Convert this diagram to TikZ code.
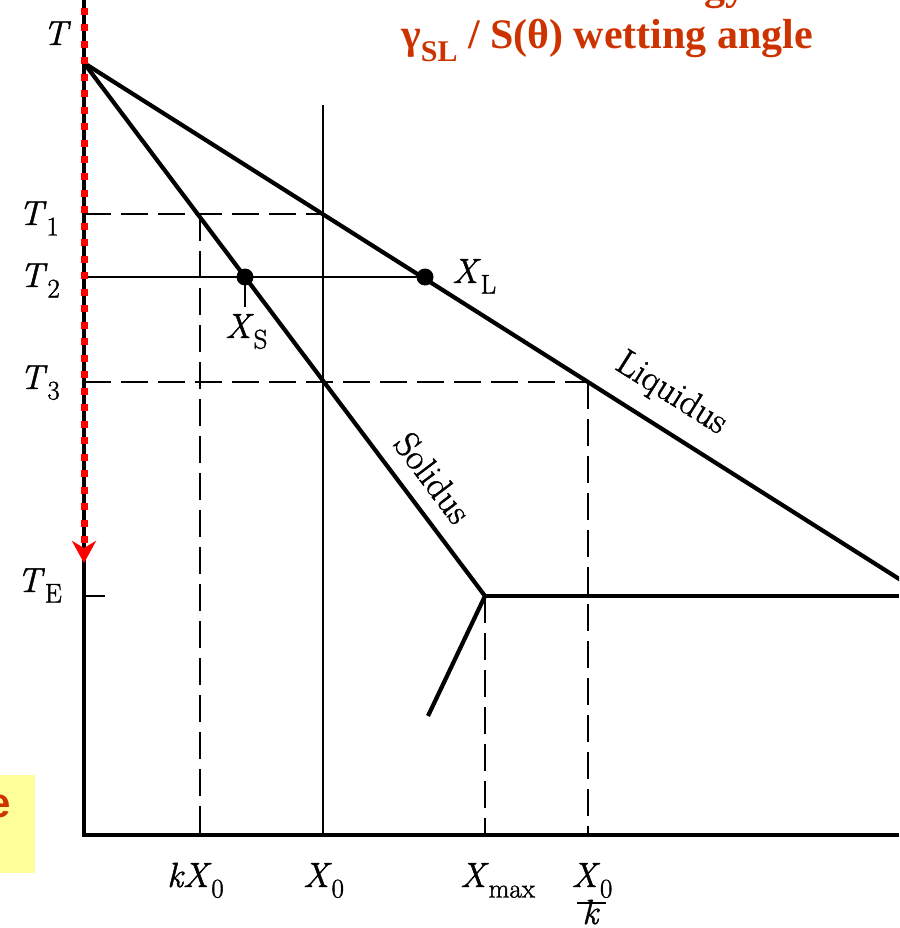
\documentclass[tikz,border=0pt]{standalone}
\usepackage{fontspec}
\usetikzlibrary{arrows.meta}
\setmainfont{Latin Modern Roman}
\newfontfamily\lblfont{Latin Modern Roman}[FakeBold=1.3]
\newfontfamily\ttlfont{Liberation Serif}
\newfontfamily\boxfont{Liberation Sans}
\definecolor{ttlred}{RGB}{204,51,0}
\definecolor{noteyellow}{RGB}{255,255,153}
\newcommand{\vs}[2]{\textit{#1}\raisebox{-0.3em}{\fontsize{27}{27}\selectfont #2}}
\tikzset{
  lbl/.style={font=\lblfont\fontsize{35}{40}\selectfont, inner sep=0pt},
  curvelbl/.style={font=\lblfont\fontsize{36}{40}\selectfont, inner sep=0pt},
  ttl/.style={font=\ttlfont\bfseries\fontsize{42}{48}\selectfont, text=ttlred, inner sep=0pt},
  heavy/.style={line width=4.2pt},
  light/.style={line width=2.6pt},
  dashline/.style={line width=2.8pt, dash pattern=on 27pt off 10pt},
  dotmark/.style={circle, fill=black, inner sep=0pt, minimum size=17pt},
  redarrow/.style={draw=red, line width=7pt, dash pattern=on 7pt off 9.5pt,
     -{Stealth[length=22pt,width=24pt,inset=7pt]}}
}
\begin{document}
\begin{tikzpicture}[x=1pt,y=-1pt]
\useasboundingbox (0,0) rectangle (899,928);
\clip (0,0) rectangle (899,928);

% coordinates
\coordinate (top) at (84,63);
\coordinate (axtop) at (84,0);
\coordinate (origin) at (84,835);
\coordinate (axright) at (899,835);
\coordinate (liqend) at (915,589);
\coordinate (eut) at (485,596);
\coordinate (TEright) at (899,596);
\coordinate (branch) at (428,716);
\coordinate (X0top) at (323,105);
\coordinate (X0bot) at (323,835);
\coordinate (T1a) at (84,214);
\coordinate (T1b) at (323,214);
\coordinate (kX0top) at (200,214);
\coordinate (kX0bot) at (200,835);
\coordinate (T2a) at (84,277);
\coordinate (T3a) at (84,382);
\coordinate (T3b) at (588,382);
\coordinate (X0kbot) at (588,835);
\coordinate (Xmaxbot) at (485,835);
\coordinate (TEa) at (84,596);
\coordinate (TEb) at (105,596);
\coordinate (XStick) at (245,307);
\coordinate (rstart) at (84,8);
\coordinate (rend) at (84,563);

% note box (clipped)
\node[fill=noteyellow, minimum width=35pt, minimum height=98pt, inner sep=0pt, anchor=north west] (note) at (0,775) {};
\node[font=\boxfont\bfseries\fontsize{42}{48}\selectfont, text=ttlred, inner sep=0pt, anchor=base east] (notetext) at (11,817) {e};

% titles
\node[ttl, anchor=base] (title1) at (599,0) {Interface energy};
\node[ttl, anchor=base west] (title2) at (401,49) {γ\raisebox{-0.3em}{\fontsize{30}{30}\selectfont SL} / S(θ) wetting angle};

% axes
\draw[heavy] (axtop) -- (origin) -- (axright);

% dots
\node[dotmark] (XSdot) at (245,277) {};
\node[dotmark] (XLdot) at (425,277) {};

% dashed and thin lines
\draw[dashline] (T1a) -- (T1b);
\draw[dashline] (kX0top) -- (kX0bot);
\draw[dashline] (T3a) -- (T3b);
\draw[dashline] (T3b) -- (X0kbot);
\draw[dashline] (eut) -- (Xmaxbot);
\draw[light] (X0top) -- (X0bot);
\draw[light] (T2a) -- (XLdot.center);
\draw[light] (XSdot.center) -- (XStick);
\draw[light] (TEa) -- (TEb);

% curves
\draw[heavy] (top) -- (liqend);
\draw[heavy] (top) -- (eut);
\draw[heavy] (eut) -- (TEright);
\draw[heavy] (eut) -- (branch);

% red arrow
\draw[redarrow] (rstart) -- (rend);

% labels
\node[lbl, anchor=base east] (lT) at (71,45) {\textit{T}};
\node[lbl, anchor=base east] (lT1) at (59,225) {\vs{T}{1}};
\node[lbl, anchor=base east] (lT2) at (60,287) {\vs{T}{2}};
\node[lbl, anchor=base east] (lT3) at (60,389) {\vs{T}{3}};
\node[lbl, anchor=base east] (lTE) at (62,592) {\vs{T}{E}};
\node[lbl, anchor=base west] (lXL) at (452,283) {\vs{X}{L}};
\node[lbl, anchor=base west] (lXS) at (225,338) {\vs{X}{S}};
\node[lbl, anchor=base west] (lkX0) at (167,887) {\vs{kX}{0}};
\node[lbl, anchor=base west] (lX0) at (303,887) {\vs{X}{0}};
\node[lbl, anchor=base west] (lXmax) at (460,887) {\vs{X}{max}};
\node[lbl, anchor=base] (lX0k) at (592,887) {\vs{X}{0}};
\node[lbl, anchor=base] (lk) at (591,924) {\textit{k}};
\coordinate (barL) at (577,903);
\coordinate (barR) at (606,903);
\draw[line width=1.8pt] (barL) -- (barR);
\node[curvelbl, rotate=-53.04] (lsol) at (433,478) {Solidus};
\node[curvelbl, rotate=-32.3] (lliq) at (671,394) {Liquidus};
\end{tikzpicture}
\end{document}
